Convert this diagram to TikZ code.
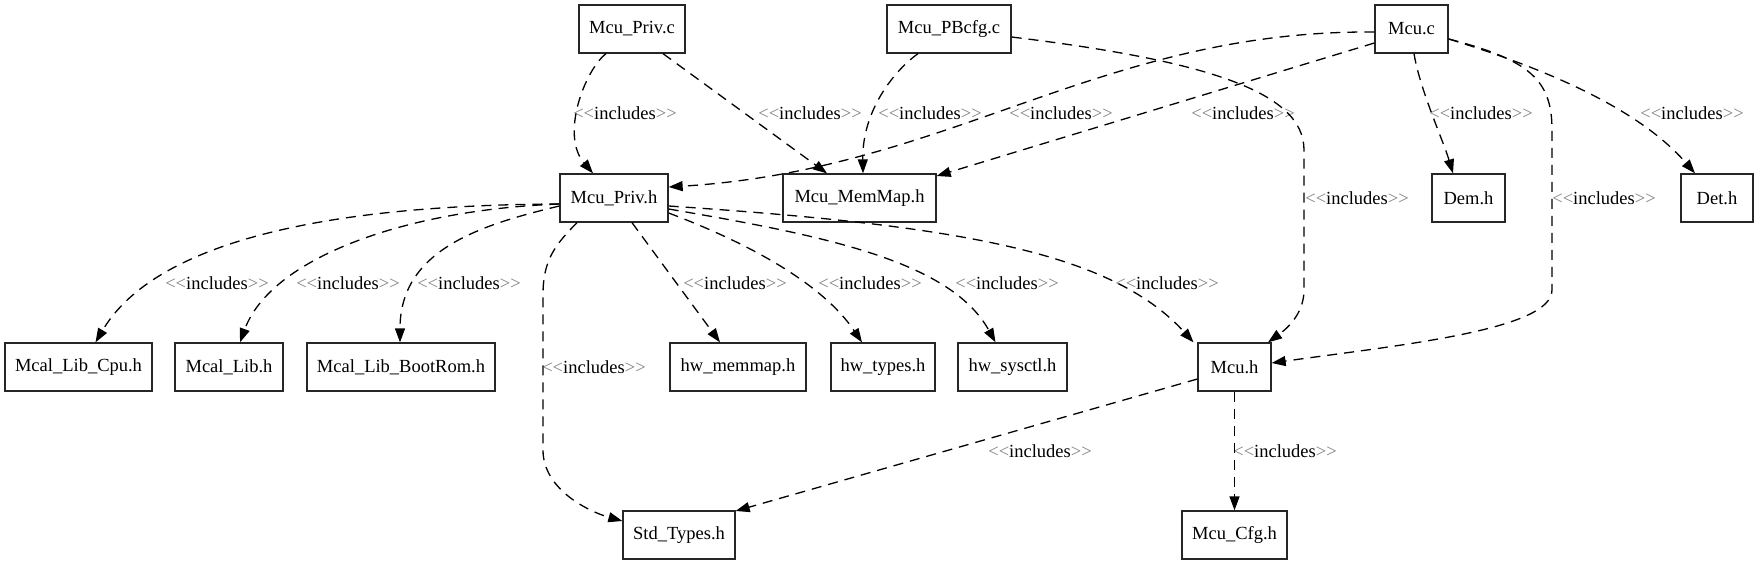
\documentclass[tikz,border=0pt]{standalone}
\usepackage{fontspec}
\setmainfont{Liberation Serif}[Ligatures=TeXOff]
\usetikzlibrary{arrows.meta}
\definecolor{ltgray}{gray}{0.5}
\newcommand\inclabel{{\color{ltgray}\symbol{"3C}\kern0pt\symbol{"3C}}includes{\color{ltgray}\symbol{"3E}\kern0pt\symbol{"3E}}}
\begin{document}
\begin{tikzpicture}[x=1pt,y=-1pt,
  box/.style={draw=black!85, line width=1.3pt, minimum height=48pt, inner sep=0pt,
    font=\fontsize{18.5}{22}\selectfont},
  lbl/.style={inner sep=0pt, font=\fontsize{18.5}{22}\selectfont},
  inc/.style={dash pattern=on 10pt off 7pt, line width=1.3pt,
    -{Triangle[length=14pt,width=10pt]}}]
\useasboundingbox[fill=white] (0,0) rectangle (1759,565);

% row 1
\node[box, minimum width=106pt] (privc) at (632,29) {Mcu\_Priv.c};
\node[box, minimum width=124pt] (pbcfg) at (949,29) {Mcu\_PBcfg.c};
\node[box, minimum width=73pt] (mcuc) at (1411.5,29) {Mcu.c};
% row 2
\node[box, minimum width=108pt] (privh) at (614,198) {Mcu\_Priv.h};
\node[box, minimum width=153pt] (memmap) at (859.5,198) {Mcu\_MemMap.h};
\node[box, minimum width=73pt] (dem) at (1468.5,198) {Dem.h};
\node[box, minimum width=72pt] (det) at (1717,198) {Det.h};
% row 3
\node[box, minimum width=147pt] (cpu) at (78.5,367) {Mcal\_Lib\_Cpu.h};
\node[box, minimum width=108pt] (lib) at (229,367) {Mcal\_Lib.h};
\node[box, minimum width=188pt] (boot) at (401,367) {Mcal\_Lib\_BootRom.h};
\node[box, minimum width=136pt] (hwmem) at (738,367) {hw\_memmap.h};
\node[box, minimum width=104pt] (hwtyp) at (883,367) {hw\_types.h};
\node[box, minimum width=109pt] (hwsys) at (1012.5,367) {hw\_sysctl.h};
\node[box, minimum width=73pt] (mcuh) at (1234.5,367) {Mcu.h};
% row 4
\node[box, minimum width=112pt] (std) at (679,535) {Std\_Types.h};
\node[box, minimum width=105pt] (cfg) at (1234.5,535) {Mcu\_Cfg.h};

% labels
\node[lbl] (la) at (625,113) {\inclabel};
\node[lbl] (lb) at (810,113) {\inclabel};
\node[lbl] (lc) at (930,113) {\inclabel};
\node[lbl] (ld) at (1061,113) {\inclabel};
\node[lbl] (le) at (1243,113) {\inclabel};
\node[lbl] (lf) at (1481,113) {\inclabel};
\node[lbl] (lg) at (1692,113) {\inclabel};
\node[lbl] (lh) at (1357,198) {\inclabel};
\node[lbl] (li) at (1604,198) {\inclabel};
\node[lbl] (lj) at (217,283) {\inclabel};
\node[lbl] (lk) at (348,283) {\inclabel};
\node[lbl] (ll) at (469,283) {\inclabel};
\node[lbl] (lm) at (735,283) {\inclabel};
\node[lbl] (ln) at (870,283) {\inclabel};
\node[lbl] (lo) at (1007,283) {\inclabel};
\node[lbl] (lp) at (1167,283) {\inclabel};
\node[lbl] (lq) at (594,367) {\inclabel};
\node[lbl] (lr) at (1040,451) {\inclabel};
\node[lbl] (ls) at (1285,451) {\inclabel};

% edges from Mcu_Priv.c
\draw[inc] ([xshift=-26pt]privc.south) .. controls (585,70) and (560,135) .. ([xshift=-21pt]privh.north);
\draw[inc] ([xshift=31pt]privc.south) -- ([xshift=-32.5pt]memmap.north);
% edges from Mcu_PBcfg.c
\draw[inc] ([xshift=-31pt]pbcfg.south) .. controls (895,70) and (862,110) .. ([xshift=3.5pt]memmap.north);
\draw[inc] ([yshift=-8pt]pbcfg.east) .. controls (1200,60) and (1304,90) .. (1304,150) -- (1304,290)
   .. controls (1304,315) and (1285,330) .. ([xshift=33.5pt]mcuh.north);
% edges from Mcu.c
\draw[inc] ([yshift=-3pt]mcuc.west) .. controls (1100,30) and (950,170) .. ([yshift=11pt]privh.east);
\draw[inc] ([yshift=-14pt]mcuc.west) -- ([yshift=22pt]memmap.east);
\draw[inc] ([xshift=2.5pt]mcuc.south) .. controls (1420,90) and (1443,140) .. ([xshift=-15.5pt]dem.north);
\draw[inc] ([yshift=-10pt]mcuc.east) .. controls (1550,70) and (1640,110) .. ([xshift=-22pt]det.north);
\draw[inc] ([yshift=-10pt]mcuc.east) .. controls (1530,60) and (1552,80) .. (1552,130) -- (1552,290)
   .. controls (1552,330) and (1400,345) .. ([yshift=4pt]mcuh.east);
% edges from Mcu_Priv.h
\draw[inc] ([yshift=-6pt]privh.west) .. controls (300,205) and (150,250) .. ([xshift=17pt]cpu.north);
\draw[inc] ([yshift=-6pt]privh.west) .. controls (400,210) and (270,260) .. ([xshift=11pt]lib.north);
\draw[inc] ([yshift=-8pt]privh.west) .. controls (480,225) and (400,250) .. ([xshift=-1pt]boot.north);
\draw[inc] ([xshift=-37pt]privh.south) .. controls (555,245) and (543,260) .. (543,295) -- (543,450)
   .. controls (543,490) and (590,512) .. ([yshift=14pt]std.west);
\draw[inc] ([xshift=18pt]privh.south) -- ([xshift=-18pt]hwmem.north);
\draw[inc] ([yshift=-15pt]privh.east) .. controls (740,240) and (820,280) .. ([xshift=-21pt]hwtyp.north);
\draw[inc] ([yshift=-11pt]privh.east) .. controls (820,235) and (950,260) .. ([xshift=-17pt]hwsys.north);
\draw[inc] ([yshift=-8pt]privh.east) .. controls (950,225) and (1110,250) .. ([xshift=-41pt]mcuh.north);
% edges from Mcu.h
\draw[inc] ([yshift=-12pt]mcuh.west) -- ([yshift=24pt]std.east);
\draw[inc] (mcuh) -- (cfg);
\end{tikzpicture}
\end{document}
